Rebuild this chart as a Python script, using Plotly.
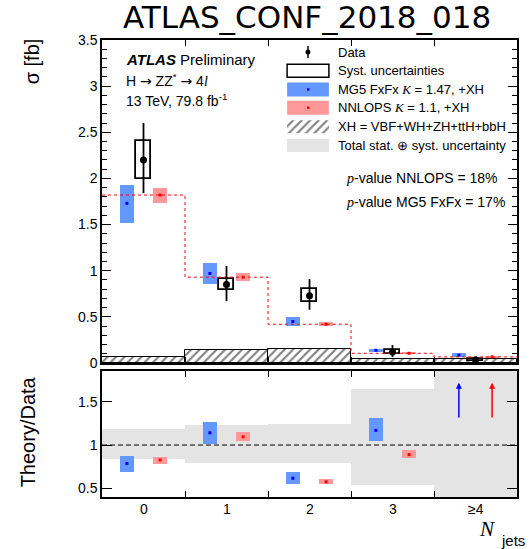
import plotly.graph_objects as go

# ---- jet-multiplicity bins ----
jet_labels = ["0", "1", "2", "3", "≥4"]
bin_centres = [0, 1, 2, 3, 4]
bin_edges = [-0.5, 0.5, 1.5, 2.5, 3.5, 4.5]

# ---- measured cross sections [fb] ----
data_xs = [2.20, 0.85, 0.73, 0.118, 0.033]
data_err_up = [0.40, 0.20, 0.18, 0.077, 0.035]
data_err_dn = [0.36, 0.18, 0.153, 0.054, 0.033]
data_syst = [0.21, 0.06, 0.07, 0.022, 0.008]

# ---- MG5 FxFx (K = 1.47) + XH ----
mg5_xs = [1.73, 0.97, 0.45, 0.138, 0.085]
mg5_lo = [1.52, 0.86, 0.40, 0.123, 0.070]
mg5_hi = [1.93, 1.08, 0.50, 0.155, 0.105]

# ---- NNLOPS (K = 1.1) + XH ----
nnlops_xs = [1.82, 0.93, 0.42, 0.105, 0.066]
nnlops_lo = [1.73, 0.89, 0.40, 0.101, 0.055]
nnlops_hi = [1.90, 0.975, 0.445, 0.111, 0.077]

# ---- XH = VBF+WH+ZH+ttH+bbH ----
xh_xs = [0.065, 0.14, 0.15, 0.047, 0.045]

# ---- style ----
W, H = 530, 549
ML, MR, MT, MB = 102, 11, 40, 52
PW, PH = W - ML - MR, H - MT - MB
BLUE_BOX = "rgb(100,152,255)"
RED_BOX = "rgb(255,153,153)"
GREY = "rgb(228,228,228)"
BOX_W = 0.17
OFFSET = 0.2
RATIO_MIN, RATIO_MAX = 0.4, 1.855
ARROW_BASE, ARROW_TIP = 1.30, 1.72
SANS = "Liberation Sans"
SERIF = "Liberation Serif"
HATCH = dict(shape="/", fgcolor="black", bgcolor="white", size=6, solidity=0.35)


def px(x):
    return (x - ML) / PW


def py(y):
    return (H - MB - y) / PH


fig = go.Figure()

# ---------------- upper panel ----------------
fig.add_trace(go.Bar(
    x=bin_centres, y=xh_xs, width=1,
    marker=dict(color="white", line=dict(color="black", width=1), pattern=HATCH),
    xaxis="x", yaxis="y"))

fig.add_trace(go.Scatter(
    x=bin_edges, y=nnlops_xs + nnlops_xs[-1:], mode="lines",
    line=dict(color="red", width=1, dash="dot", shape="hv"),
    xaxis="x", yaxis="y"))

mg5_x = [c - OFFSET for c in bin_centres]
nn_x = [c + OFFSET for c in bin_centres]

fig.add_trace(go.Bar(
    x=mg5_x, base=mg5_lo, y=[h - l for h, l in zip(mg5_hi, mg5_lo)],
    width=BOX_W, marker=dict(color=BLUE_BOX, line=dict(width=0)),
    xaxis="x", yaxis="y"))
fig.add_trace(go.Scatter(
    x=mg5_x, y=mg5_xs, mode="markers",
    marker=dict(symbol="square", size=3, color="blue"),
    xaxis="x", yaxis="y"))

fig.add_trace(go.Bar(
    x=nn_x, base=nnlops_lo, y=[h - l for h, l in zip(nnlops_hi, nnlops_lo)],
    width=BOX_W, marker=dict(color=RED_BOX, line=dict(width=0)),
    xaxis="x", yaxis="y"))
fig.add_trace(go.Scatter(
    x=nn_x, y=nnlops_xs, mode="markers",
    marker=dict(symbol="square", size=3, color="red"),
    xaxis="x", yaxis="y"))

# data: total error bars, systematic boxes, then the points
fig.add_trace(go.Scatter(
    x=bin_centres, y=data_xs, mode="markers",
    marker=dict(size=1, color="black"),
    error_y=dict(type="data", array=data_err_up, arrayminus=data_err_dn,
                 color="black", thickness=1.8, width=0),
    xaxis="x", yaxis="y"))
fig.add_trace(go.Bar(
    x=bin_centres, base=[d - s for d, s in zip(data_xs, data_syst)],
    y=[2 * s for s in data_syst], width=BOX_W,
    marker=dict(color="white", line=dict(color="black", width=1.8)),
    xaxis="x", yaxis="y"))
fig.add_trace(go.Scatter(
    x=bin_centres, y=data_xs, mode="markers",
    marker=dict(symbol="circle", size=7, color="black"),
    xaxis="x", yaxis="y"))

# ---------------- ratio panel ----------------
band_lo = [1 - dn / d for dn, d in zip(data_err_dn, data_xs)]
band_h = [(up + dn) / d for up, dn, d in zip(data_err_up, data_err_dn, data_xs)]
fig.add_trace(go.Bar(
    x=bin_centres, base=band_lo, y=band_h, width=1,
    marker=dict(color=GREY, line=dict(width=0)),
    xaxis="x2", yaxis="y2"))

annotations = []


def ratio_series(xs, vals, lo, hi, box_col, dot_col):
    keep_x, keep_r, keep_lo, keep_h = [], [], [], []
    for x, v, l, h, d in zip(xs, vals, lo, hi, data_xs):
        r = v / d
        if r > RATIO_MAX:
            # off-scale ratio: upward arrow
            annotations.append(dict(
                x=x, y=ARROW_TIP, ax=x, ay=ARROW_BASE,
                xref="x2", yref="y2", axref="x2", ayref="y2",
                text="", showarrow=True, arrowhead=2, arrowsize=0.8,
                arrowwidth=1.5, arrowcolor=dot_col))
            continue
        keep_x.append(x)
        keep_r.append(r)
        keep_lo.append(l / d)
        keep_h.append((h - l) / d)
    fig.add_trace(go.Bar(
        x=keep_x, base=keep_lo, y=keep_h, width=BOX_W,
        marker=dict(color=box_col, line=dict(width=0)),
        xaxis="x2", yaxis="y2"))
    fig.add_trace(go.Scatter(
        x=keep_x, y=keep_r, mode="markers",
        marker=dict(symbol="square", size=3, color=dot_col),
        xaxis="x2", yaxis="y2"))


ratio_series(mg5_x, mg5_xs, mg5_lo, mg5_hi, BLUE_BOX, "blue")
ratio_series(nn_x, nnlops_xs, nnlops_lo, nnlops_hi, RED_BOX, "red")

shapes = [dict(type="line", xref="x2 domain", yref="y2", x0=0, x1=1, y0=1, y1=1,
               line=dict(color="black", width=1, dash="5px,3px"))]

# jet-multiplicity labels under the ratio panel, centred in each bin
for c, lab in zip(bin_centres, jet_labels):
    annotations.append(dict(x=c, xref="x2", y=py(509), yref="paper", text=lab,
                            showarrow=False, xanchor="center", yanchor="middle",
                            font=dict(family=SANS, size=14, color="black")))

# ---------------- legend ----------------
LX0, LX1, LTX = 288, 330, 337
legend_rows = [52, 70.7, 89.5, 107.7, 126.7, 145.4]
half = 7

# data marker with error bar
shapes.append(dict(type="line", xref="paper", yref="paper",
                   x0=px(309), x1=px(309), y0=py(46), y1=py(58),
                   line=dict(color="black", width=1.5)))
shapes.append(dict(type="circle", xref="paper", yref="paper",
                   x0=px(306.5), x1=px(311.5), y0=py(49.5), y1=py(54.5),
                   fillcolor="black", line=dict(color="black", width=0)))
# systematic box
y = legend_rows[1]
shapes.append(dict(type="rect", xref="paper", yref="paper",
                   x0=px(LX0), x1=px(LX1), y0=py(y - 6.5), y1=py(y + 6.5),
                   fillcolor="white", line=dict(color="black", width=1.5)))
# MG5 / NNLOPS
for y, box, dot in [(legend_rows[2], BLUE_BOX, "blue"), (legend_rows[3], RED_BOX, "red")]:
    shapes.append(dict(type="rect", xref="paper", yref="paper",
                       x0=px(LX0), x1=px(LX1), y0=py(y - half), y1=py(y + half),
                       fillcolor=box, line=dict(width=0)))
    shapes.append(dict(type="rect", xref="paper", yref="paper",
                       x0=px(308), x1=px(310.5), y0=py(y - 1.2), y1=py(y + 1.2),
                       fillcolor=dot, line=dict(width=0)))
# total uncertainty
y = legend_rows[5]
shapes.append(dict(type="rect", xref="paper", yref="paper",
                   x0=px(LX0), x1=px(LX1), y0=py(y - 6.5), y1=py(y + 6.5),
                   fillcolor=GREY, line=dict(width=0)))
# hatched XH patch on a hidden full-frame axis
y = legend_rows[4]
fig.add_trace(go.Scatter(
    x=[px(LX0), px(LX1), px(LX1), px(LX0), px(LX0)],
    y=[py(y - 6.5), py(y - 6.5), py(y + 6.5), py(y + 6.5), py(y - 6.5)],
    mode="lines", fill="toself", fillcolor="white", fillpattern=HATCH,
    line=dict(color="rgba(0,0,0,0)", width=0),
    xaxis="x3", yaxis="y3"))

KI = '<span style="font-family:Liberation Serif"><i>K</i></span>'
legend_text = [
    "Data",
    "Syst. uncertainties",
    f"MG5 FxFx {KI} = 1.47, +XH",
    f"NNLOPS {KI} = 1.1, +XH",
    "XH = VBF+WH+ZH+ttH+bbH",
    "Total stat. ⊕ syst. uncertainty",
]
for y, t in zip(legend_rows, legend_text):
    annotations.append(dict(x=px(LTX), y=py(y), xref="paper", yref="paper",
                            text=t, showarrow=False, xanchor="left", yanchor="middle",
                            font=dict(family=SANS, size=13, color="black")))

# ---------------- labels ----------------
def label(x, y, text, size, anchor="left", family=SANS, angle=0):
    annotations.append(dict(x=px(x), y=py(y), xref="paper", yref="paper", text=text,
                            showarrow=False, xanchor=anchor, yanchor="middle",
                            textangle=angle, font=dict(family=family, size=size, color="black")))


ARR = '<span style="font-family:DejaVu Sans">→</span>'
label(308, 17, "ATLAS_CONF_2018_018", 31, anchor="center", family="DejaVu Sans")
label(124, 59, "<b><i>ATLAS</i></b> Preliminary", 15)
label(124, 80, f'H {ARR} ZZ<sup>*</sup> {ARR} 4<span style="font-family:Liberation Serif"><i>l</i></span>', 14)
label(124, 100, "13 TeV, 79.8 fb<sup>-1</sup>", 14)
PI = '<span style="font-family:Liberation Serif"><i>p</i></span>'
label(345, 178.3, f"{PI}-value NNLOPS = 18%", 14)
label(345, 201.7, f"{PI}-value MG5 FxFx = 17%", 14)
label(32, 61, "σ [fb]", 20, anchor="center", angle=-90)
label(28, 432, "Theory/Data", 20, anchor="center", angle=-90)
label(499, 529, "<i>N</i>", 21, anchor="right", family=SERIF)
label(501, 540, "jets", 15)

# ---------------- axes ----------------
tick_font = dict(family=SANS, size=14, color="black")
frame = dict(showline=True, linecolor="black", linewidth=1.5, mirror="ticks",
             showgrid=False, zeroline=False)
# x ticks sit on the bin edges
edge_axis = dict(range=[-0.5, 4.5], tickmode="array", tickvals=bin_edges[1:-1],
                 showticklabels=False, ticks="inside", ticklen=6, tickwidth=1,
                 tickcolor="black", **frame)

top_dom = [py(363), 1]
bot_dom = [0, py(371)]

fig.update_layout(
    width=W, height=H,
    margin=dict(l=ML, r=MR, t=MT, b=MB, pad=0),
    paper_bgcolor="white", plot_bgcolor="rgba(0,0,0,0)",
    showlegend=False, barmode="overlay", bargap=0,
    xaxis=dict(domain=[0, 1], anchor="y", **edge_axis),
    yaxis=dict(domain=top_dom, anchor="x", range=[0, 3.5],
               tickvals=[0, 0.5, 1, 1.5, 2, 2.5, 3, 3.5],
               ticktext=["0", "0.5", "1", "1.5", "2", "2.5", "3", "3.5"],
               ticks="inside", ticklen=9, tickwidth=1, tickcolor="black",
               minor=dict(tickmode="linear", tick0=0, dtick=0.1, ticks="inside",
                          ticklen=5, tickwidth=1, tickcolor="black"),
               tickfont=tick_font, **frame),
    xaxis2=dict(domain=[0, 1], anchor="y2", matches="x", **edge_axis),
    yaxis2=dict(domain=bot_dom, anchor="x2", range=[RATIO_MIN, RATIO_MAX],
                tickvals=[0.5, 1, 1.5], ticktext=["0.5", "1", "1.5"],
                ticks="inside", ticklen=10, tickwidth=1, tickcolor="black",
                tickfont=tick_font, **frame),
    xaxis3=dict(domain=[0, 1], anchor="y3", range=[0, 1], visible=False),
    yaxis3=dict(domain=[0, 1], anchor="x3", range=[0, 1], visible=False),
    shapes=shapes,
    annotations=annotations,
)

fig.write_html("out.html")
